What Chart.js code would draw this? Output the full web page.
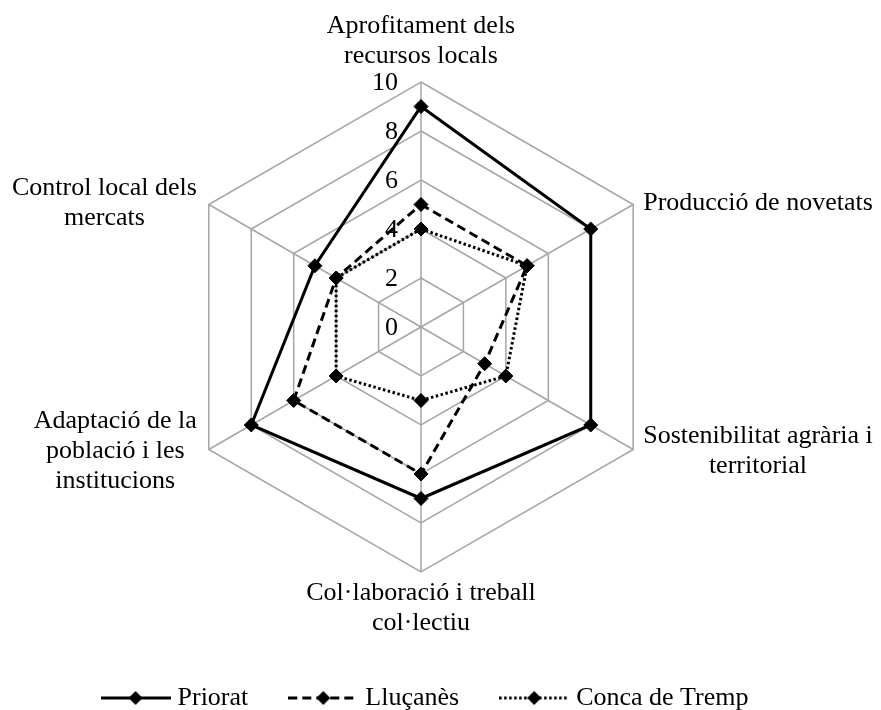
<!DOCTYPE html>
<html lang="ca">
  <head>
    <meta charset="UTF-8" />
    <title>Radar</title>
    <style>
      html,
      body {
        margin: 0;
        padding: 0;
        background-color: #fff;
      }
      canvas {
        display: block;
      }
    </style>
  </head>
  <body>
    <canvas id="radarChart" width="881" height="710"></canvas>

    <script src="https://cdn.jsdelivr.net/npm/chart.js"></script>
    <script>
      // Data
      const axisLabels = [
        ["Aprofitament dels", "recursos locals"],
        ["Producció de novetats"],
        ["Sostenibilitat agrària i", "territorial"],
        ["Col·laboració i treball", "col·lectiu"],
        ["Adaptació de la", "població i les", "institucions"],
        ["Control local dels", "mercats"],
      ];
      const seriesNames = ["Priorat", "Lluçanès", "Conca de Tremp"];
      const priorat = [9, 8, 8, 7, 8, 5];
      const llucanes = [5, 5, 3, 6, 6, 4];
      const concaDeTremp = [4, 5, 4, 3, 4, 4];
      const scaleTicks = [0, 2, 4, 6, 8, 10];

      const seriesValues = [priorat, llucanes, concaDeTremp];
      const seriesDash = [[], [9, 5], [2.5, 2.5]];

      const FONT = "'Liberation Serif', 'Times New Roman', serif";
      const FONT_SIZE = 26;
      const LINE_H = 30;
      const GRID = "#a6a6a6";

      Chart.defaults.font.family = FONT;
      Chart.defaults.color = "#000";

      // small line + diamond sample for the legend
      function legendIcon(dash) {
        const c = document.createElement("canvas");
        c.width = 70;
        c.height = 18;
        const g = c.getContext("2d");
        g.strokeStyle = "#000";
        g.lineWidth = 3;
        g.setLineDash(dash);
        g.beginPath();
        g.moveTo(0, 9);
        g.lineTo(70, 9);
        g.stroke();
        g.setLineDash([]);
        g.fillStyle = "#000";
        g.beginPath();
        g.moveTo(35, 2);
        g.lineTo(42, 9);
        g.lineTo(35, 16);
        g.lineTo(28, 9);
        g.closePath();
        g.fill();
        return c;
      }
      const legendIcons = seriesDash.map(legendIcon);

      // fixes the radar geometry and writes axis / tick text
      const textLayer = {
        id: "textLayer",
        afterLayout(chart) {
          const r = chart.scales.r;
          r.xCenter = 421;
          r.yCenter = 327;
          r.drawingArea = 245;
          const lg = chart.legend;
          lg.top += 11;
          lg.bottom += 11;
          lg.left -= 13;
          lg.right -= 13;
        },
        afterDraw(chart) {
          const r = chart.scales.r;
          const ctx = chart.ctx;
          ctx.save();
          ctx.fillStyle = "#000";
          ctx.font = FONT_SIZE + "px " + FONT;
          ctx.textBaseline = "middle";

          ctx.textAlign = "right";
          r.ticks.forEach((t) => {
            const d = r.getDistanceFromCenterForValue(t.value);
            ctx.fillText(String(t.value), r.xCenter - 23, r.yCenter - d + 1);
          });

          ctx.textAlign = "center";
          chart.data.labels.forEach((lines, i) => {
            const p = r.getPointPosition(i, r.drawingArea);
            const a = r.getIndexAngle(i);
            const deg = Math.round((a * 180) / Math.PI) % 360;
            const w = Math.max(...lines.map((s) => ctx.measureText(s).width));
            const h = lines.length * LINE_H;
            let cx, top;
            if (deg === 0) {
              cx = p.x;
              top = p.y - 11 - h;
            } else if (deg === 180) {
              cx = p.x;
              top = p.y + 6;
            } else if (deg < 180) {
              cx = p.x + 10 + w / 2;
              top = p.y - h / 2 - 3 * Math.cos(a);
            } else {
              cx = p.x - 12 - w / 2;
              top = p.y - h / 2 - 3 * Math.cos(a);
            }
            lines.forEach((s, k) => ctx.fillText(s, cx, top + LINE_H * (k + 0.5)));
          });
          ctx.restore();
        },
      };

      const radarChart = new Chart(document.getElementById("radarChart"), {
        type: "radar",
        data: {
          labels: axisLabels,
          datasets: seriesNames.map((name, i) => ({
            label: name,
            data: seriesValues[i],
            fill: false,
            borderColor: "#000",
            backgroundColor: "#000",
            borderWidth: 3,
            borderDash: seriesDash[i],
            pointStyle: "rectRot",
            pointRadius: 7,
            pointBackgroundColor: "#000",
            pointBorderColor: "#000",
            pointBorderWidth: 1,
            tension: 0,
            clip: false,
          })),
        },
        options: {
          responsive: false,
          animation: false,
          scales: {
            r: {
              min: 0,
              max: 10,
              afterBuildTicks: (s) => {
                s.ticks = scaleTicks.map((v) => ({ value: v }));
              },
              ticks: { display: false },
              grid: { color: GRID, lineWidth: 1.5 },
              angleLines: { color: GRID, lineWidth: 1.5 },
              pointLabels: { display: false },
            },
          },
          plugins: {
            legend: {
              position: "bottom",
              labels: {
                usePointStyle: true,
                pointStyleWidth: 58,
                padding: 46,
                color: "#000",
                font: { size: FONT_SIZE },
                generateLabels(chart) {
                  const items =
                    Chart.defaults.plugins.legend.labels.generateLabels(chart);
                  items.forEach((it, i) => {
                    it.pointStyle = legendIcons[i];
                  });
                  return items;
                },
              },
            },
            tooltip: { enabled: false },
          },
        },
        plugins: [textLayer],
      });
    </script>
  </body>
</html>
